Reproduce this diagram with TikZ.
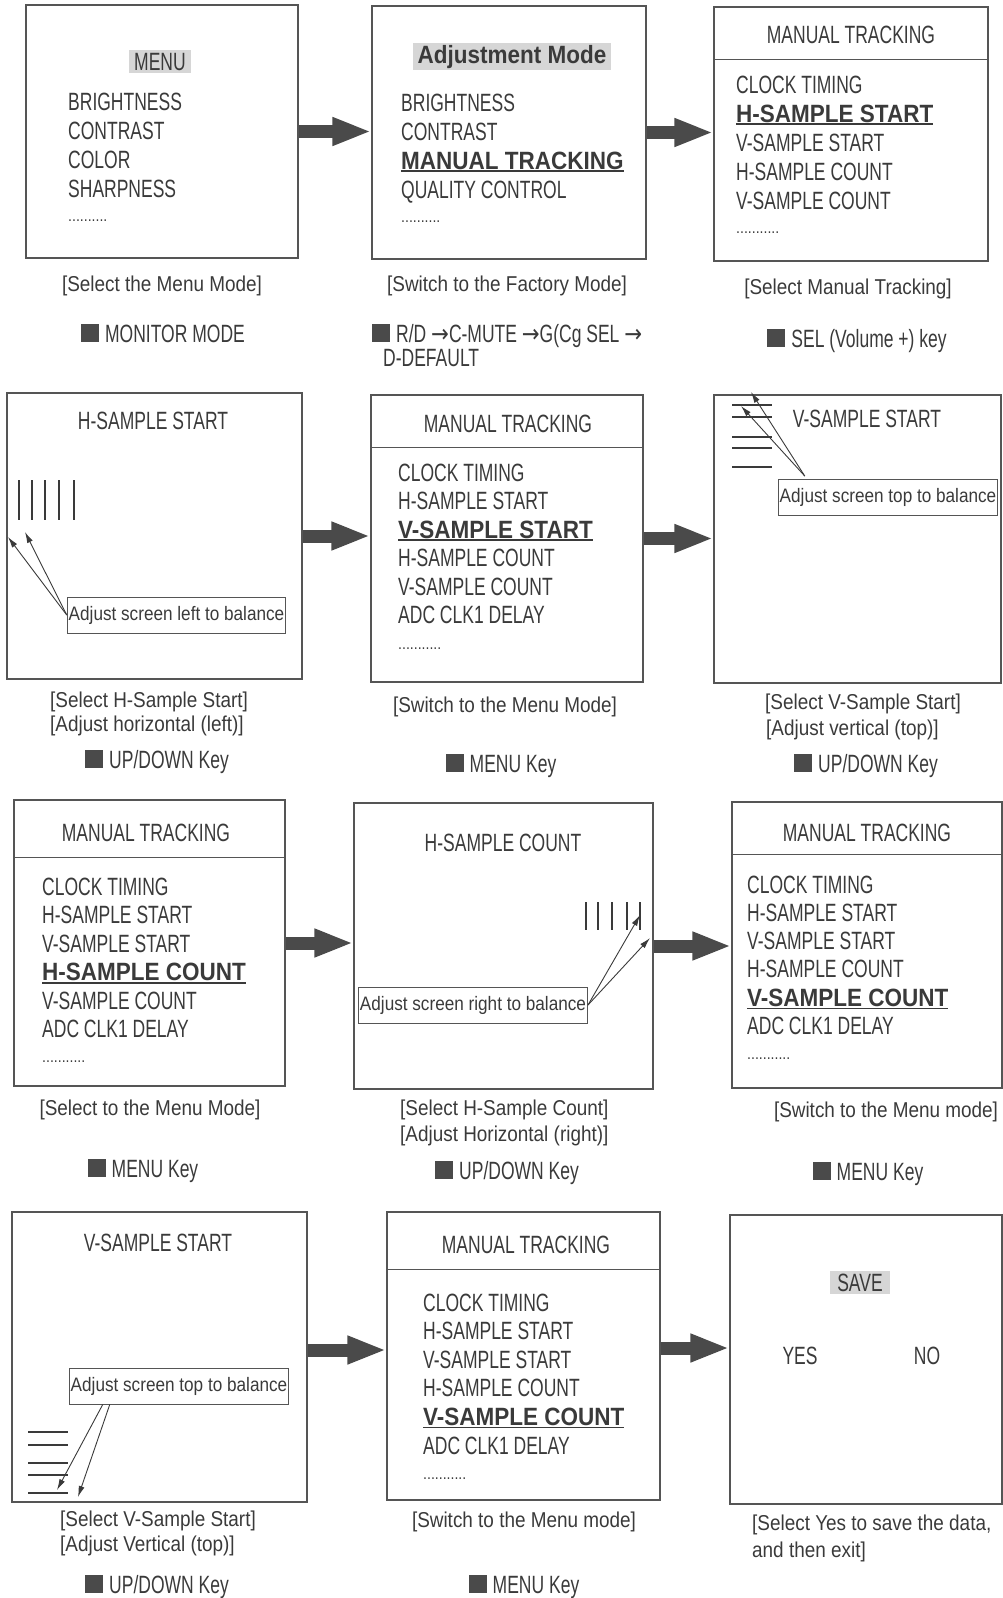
\documentclass[tikz,border=0pt]{standalone}
\usepackage{fontspec}
\setmainfont{Liberation Sans}[FakeStretch=0.88]
\newfontfamily\capsfont{Liberation Sans}[FakeStretch=0.7]
\newfontfamily\boldfont{Liberation Sans}[FakeStretch=0.9]
\newfontfamily\arrowfont{DejaVu Sans}[FakeStretch=0.85]
\usepackage{tikz}
\usetikzlibrary{arrows.meta,calc}

\definecolor{ink}{HTML}{3A3A3A}
\definecolor{frame}{HTML}{555555}
\definecolor{arrowgray}{HTML}{4A4A4A}
\definecolor{hlgray}{HTML}{D6D6D6}

\newcommand{\keysq}{{\color{arrowgray}\rule{18pt}{18pt}}\hspace{6pt}}
\newcommand{\sel}[1]{\sbox0{\boldfont\bfseries #1}\rlap{\rule[-3pt]{\wd0}{1.6pt}}\usebox0}
\newcommand{\goto}{{\arrowfont →}}

\tikzstyle{panel} = [draw=frame, line width=1.2pt, rectangle, inner sep=0pt]
\tikzstyle{panelline} = [draw=frame, line width=1.2pt]
\tikzstyle{item} = [font=\capsfont\fontsize{25}{28}\selectfont, text=ink, inner sep=0pt, text height=18pt, text depth=0pt, anchor=west]
\tikzstyle{title} = [item, anchor=center]
\tikzstyle{keyline} = [item, anchor=center]
\tikzstyle{hl} = [title, fill=hlgray, inner xsep=5pt, inner ysep=2.5pt]
\tikzstyle{dots} = [font=\fontsize{16}{16}\selectfont, text=ink, inner sep=0pt, anchor=base west]
\tikzstyle{caption} = [font=\fontsize{21.5}{24}\selectfont, text=ink, inner sep=0pt]
\tikzstyle{tag} = [draw=frame, line width=0.9pt, font=\fontsize{19.5}{22}\selectfont, text=ink, inner xsep=1.5pt, minimum height=36pt]
\tikzstyle{bigarrow} = [draw=arrowgray, line width=13pt, -{Triangle[length=39pt,width=26pt]}]
\tikzstyle{pointer} = [draw=ink, line width=0.9pt, -{Latex[length=11pt,width=6pt]}]
\tikzstyle{bar} = [draw=ink, line width=1.3pt]

\begin{document}
\begin{tikzpicture}[x=1pt, y=-1pt]
    \useasboundingbox (0,0) rectangle (1003,1598);

    % row 1
    \node[panel, minimum width=272pt, minimum height=253pt] (menu) at (162,131.5) {};
    \node[hl] (menu-head) at (160,61) {MENU};
    \foreach \t [count=\i from 0] in {BRIGHTNESS,CONTRAST,COLOR,SHARPNESS}
        \node[item] (menu-\i) at (68,101+29*\i) {\t};
    \node[dots] (menu-dots) at (68,221) {..........};
    \node[caption] (menu-cap) at (162,286) {[Select the Menu Mode]};
    \node[keyline] (menu-key) at (163,333) {\keysq MONITOR MODE};

    \node[panel, minimum width=274pt, minimum height=253pt] (adj) at (509,132.5) {};
    \node[hl, font=\boldfont\bfseries\fontsize{25}{28}\selectfont, text height=19pt, text depth=4pt, inner ysep=2pt] (adj-head) at (512,56) {Adjustment Mode};
    \foreach \t [count=\i from 0] in {BRIGHTNESS,CONTRAST,\sel{MANUAL TRACKING},QUALITY CONTROL}
        \node[item] (adj-\i) at (401,102+29*\i) {\t};
    \node[dots] (adj-dots) at (401,222) {..........};
    \node[caption] (adj-cap) at (507,286) {[Switch to the Factory Mode]};
    \node[keyline, anchor=west] (adj-key) at (372,333) {\keysq R/D \goto C-MUTE \goto G(Cg SEL \goto};
    \node[keyline, anchor=west] (adj-key2) at (383,357) {D-DEFAULT};

    \node[panel, minimum width=274pt, minimum height=254pt] (track1) at (851,134) {};
    \draw[panelline] ([yshift=-53pt]track1.north west) -- ([yshift=-53pt]track1.north east);
    \node[title] (track1-head) at (851,34) {MANUAL TRACKING};
    \foreach \t [count=\i from 0] in {CLOCK TIMING,\sel{H-SAMPLE START},V-SAMPLE START,H-SAMPLE COUNT,V-SAMPLE COUNT}
        \node[item] (track1-\i) at (736,84+29*\i) {\t};
    \node[dots] (track1-dots) at (736,233) {...........};
    \node[caption] (track1-cap) at (848,289) {[Select Manual Tracking]};
    \node[keyline] (track1-key) at (857,338) {\keysq SEL (Volume +) key};

    % row 2
    \node[panel, minimum width=295pt, minimum height=286pt] (hstart) at (154.5,536) {};
    \node[title] (hstart-head) at (153,420) {H-SAMPLE START};
    \foreach \x in {19,32,45,59,74}
        \draw[bar] (\x,480) -- (\x,520);
    \node[tag] (hstart-tag) at (176.5,615) {Adjust screen left to balance};
    \coordinate (hstart-tip1) at (8,537);
    \coordinate (hstart-tip2) at (25,532);
    \path[pointer] (hstart-tag.west) -- (hstart-tip1);
    \path[pointer] (hstart-tag.west) -- (hstart-tip2);
    \node[caption, anchor=west] (hstart-cap1) at (50,702) {[Select H-Sample Start]};
    \node[caption, anchor=west] (hstart-cap2) at (50,726) {[Adjust horizontal (left)]};
    \node[keyline] (hstart-key) at (157,759) {\keysq UP/DOWN Key};

    \node[panel, minimum width=272pt, minimum height=287pt] (track2) at (507,538.5) {};
    \draw[panelline] ([yshift=-53pt]track2.north west) -- ([yshift=-53pt]track2.north east);
    \node[title] (track2-head) at (508,423) {MANUAL TRACKING};
    \foreach \t [count=\i from 0] in {CLOCK TIMING,H-SAMPLE START,\sel{V-SAMPLE START},H-SAMPLE COUNT,V-SAMPLE COUNT,ADC CLK1 DELAY}
        \node[item] (track2-\i) at (398,472+28.5*\i) {\t};
    \node[dots] (track2-dots) at (398,649) {...........};
    \node[caption] (track2-cap) at (505,707) {[Switch to the Menu Mode]};
    \node[keyline] (track2-key) at (501,763) {\keysq MENU Key};

    \node[panel, minimum width=287pt, minimum height=288pt] (vstart) at (857.5,539) {};
    \node[title] (vstart-head) at (867,418) {V-SAMPLE START};
    \foreach \y in {405,417,437,448,467}
        \draw[bar] (732,\y) -- (772,\y);
    \node[tag] (vstart-tag) at (888,497.5) {Adjust screen top to balance};
    \coordinate (vstart-tip1) at (751,392);
    \coordinate (vstart-tip2) at (741,406);
    \path[pointer] ([xshift=27pt,yshift=3pt]vstart-tag.north west) -- (vstart-tip1);
    \path[pointer] ([xshift=27pt,yshift=3pt]vstart-tag.north west) -- (vstart-tip2);
    \node[caption, anchor=west] (vstart-cap1) at (765,704) {[Select V-Sample Start]};
    \node[caption, anchor=west] (vstart-cap2) at (766,730) {[Adjust vertical (top)]};
    \node[keyline] (vstart-key) at (866,763) {\keysq UP/DOWN Key};

    % row 3
    \node[panel, minimum width=271pt, minimum height=286pt] (track3) at (149.5,943) {};
    \draw[panelline] ([yshift=-58pt]track3.north west) -- ([yshift=-58pt]track3.north east);
    \node[title] (track3-head) at (146,832) {MANUAL TRACKING};
    \foreach \t [count=\i from 0] in {CLOCK TIMING,H-SAMPLE START,V-SAMPLE START,\sel{H-SAMPLE COUNT},V-SAMPLE COUNT,ADC CLK1 DELAY}
        \node[item] (track3-\i) at (42,886+28.5*\i) {\t};
    \node[dots] (track3-dots) at (42,1062) {...........};
    \node[caption] (track3-cap) at (150,1110) {[Select to the Menu Mode]};
    \node[keyline] (track3-key) at (143,1168) {\keysq MENU Key};

    \node[panel, minimum width=299pt, minimum height=286pt] (hcount) at (503.5,946) {};
    \node[title] (hcount-head) at (503,842) {H-SAMPLE COUNT};
    \foreach \x in {586,598,612,627,640}
        \draw[bar] (\x,902) -- (\x,930);
    \node[tag] (hcount-tag) at (473,1005) {Adjust screen right to balance};
    \coordinate (hcount-tip1) at (640,915);
    \coordinate (hcount-tip2) at (650,938);
    \path[pointer] (hcount-tag.east) -- (hcount-tip1);
    \path[pointer] (hcount-tag.east) -- (hcount-tip2);
    \node[caption, anchor=west] (hcount-cap1) at (400,1110) {[Select H-Sample Count]};
    \node[caption, anchor=west] (hcount-cap2) at (400,1136) {[Adjust Horizontal (right)]};
    \node[keyline] (hcount-key) at (507,1170) {\keysq UP/DOWN Key};

    \node[panel, minimum width=270pt, minimum height=286pt] (track4) at (867,945) {};
    \draw[panelline] ([yshift=-53pt]track4.north west) -- ([yshift=-53pt]track4.north east);
    \node[title] (track4-head) at (867,832) {MANUAL TRACKING};
    \foreach \t [count=\i from 0] in {CLOCK TIMING,H-SAMPLE START,V-SAMPLE START,H-SAMPLE COUNT,\sel{V-SAMPLE COUNT},ADC CLK1 DELAY}
        \node[item] (track4-\i) at (747,884+28.3*\i) {\t};
    \node[dots] (track4-dots) at (747,1059) {...........};
    \node[caption] (track4-cap) at (886,1112) {[Switch to the Menu mode]};
    \node[keyline] (track4-key) at (868,1171) {\keysq MENU Key};

    % row 4
    \node[panel, minimum width=295pt, minimum height=290pt] (vstart2) at (159.5,1357) {};
    \node[title] (vstart2-head) at (158,1242) {V-SAMPLE START};
    \node[tag] (vstart2-tag) at (179,1386) {Adjust screen top to balance};
    \foreach \y in {1432,1445,1463,1475,1493}
        \draw[bar] (28,\y) -- (68,\y);
    \coordinate (vstart2-tip1) at (57,1490);
    \coordinate (vstart2-tip2) at (78,1497);
    \path[pointer] ([xshift=34pt]vstart2-tag.south west) -- (vstart2-tip1);
    \path[pointer] ([xshift=41pt]vstart2-tag.south west) -- (vstart2-tip2);
    \node[caption, anchor=west] (vstart2-cap1) at (60,1521) {[Select V-Sample Start]};
    \node[caption, anchor=west] (vstart2-cap2) at (60,1546) {[Adjust Vertical (top)]};
    \node[keyline] (vstart2-key) at (157,1584) {\keysq UP/DOWN Key};

    \node[panel, minimum width=273pt, minimum height=288pt] (track5) at (523.5,1356) {};
    \draw[panelline] ([yshift=-58pt]track5.north west) -- ([yshift=-58pt]track5.north east);
    \node[title] (track5-head) at (526,1244) {MANUAL TRACKING};
    \foreach \t [count=\i from 0] in {CLOCK TIMING,H-SAMPLE START,V-SAMPLE START,H-SAMPLE COUNT,\sel{V-SAMPLE COUNT},ADC CLK1 DELAY}
        \node[item] (track5-\i) at (423,1302+28.6*\i) {\t};
    \node[dots] (track5-dots) at (423,1479) {...........};
    \node[caption] (track5-cap) at (524,1522) {[Switch to the Menu mode]};
    \node[keyline] (track5-key) at (524,1584) {\keysq MENU Key};

    \node[panel, minimum width=272pt, minimum height=289pt] (save) at (866,1359.5) {};
    \node[hl, inner xsep=7pt] (save-head) at (860,1282) {SAVE};
    \node[title] (save-yes) at (800,1355) {YES};
    \node[title] (save-no) at (927,1355) {NO};
    \node[caption, anchor=west] (save-cap1) at (752,1525) {[Select Yes to save the data,};
    \node[caption, anchor=west] (save-cap2) at (752,1552) {and then exit]};

    % big arrows
    \path[bigarrow] (menu.east) -- (menu.east -| adj.west);
    \path[bigarrow] (adj.east) -- (adj.east -| track1.west);
    \path[bigarrow] (hstart.east) -- (hstart.east -| track2.west);
    \path[bigarrow] (track2.east) -- (track2.east -| vstart.west);
    \path[bigarrow] (track3.east) -- (track3.east -| hcount.west);
    \path[bigarrow] (hcount.east) -- (hcount.east -| track4.west);
    \path[bigarrow] ([yshift=7pt]vstart2.east) -- ([yshift=7pt]vstart2.east -| track5.west);
    \path[bigarrow] ([yshift=8pt]track5.east) -- ([yshift=8pt]track5.east -| save.west);
\end{tikzpicture}
\end{document}
